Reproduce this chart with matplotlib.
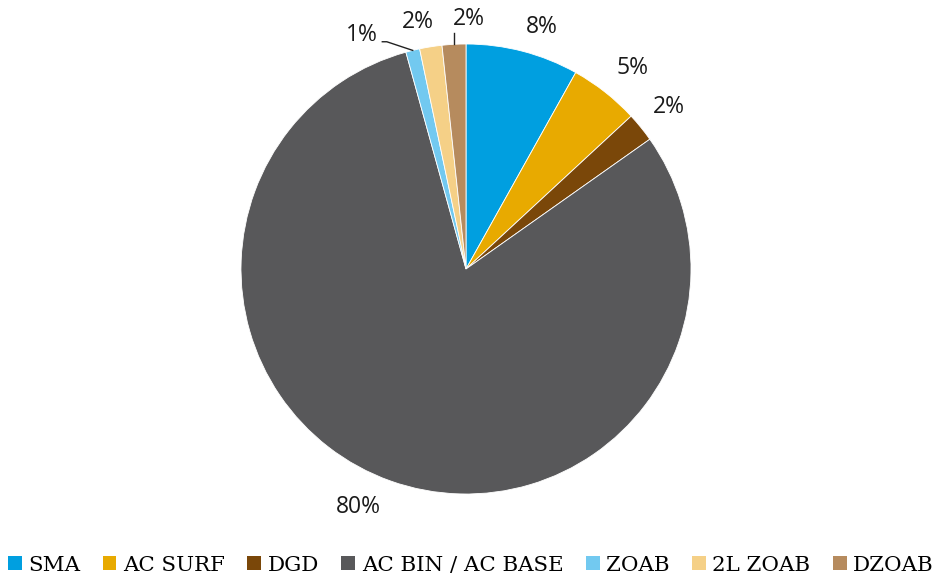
import matplotlib
matplotlib.use("Agg")
import matplotlib.pyplot as plt
import numpy as np

categories = ["SMA", "AC SURF", "DGD", "AC BIN / AC BASE", "ZOAB", "2L ZOAB", "DZOAB"]
values = [8.1, 5.0, 2.1, 80.4, 1.0, 1.6, 1.7]
colors = ["#009FE0", "#E8AA00", "#7A4709", "#58585A", "#72C9F0", "#F5D087", "#B68B5E"]

# label positions (in pie-radius units) and whether a leader line is drawn
label_pos = [(0.338, 1.076), (0.742, 0.893), (0.902, 0.72), (-0.48, -1.058),
             (-0.462, 1.04), (-0.213, 1.10), (0.013, 1.111)]
leader = [False, False, False, False, True, False, True]

W, H = 936, 577
cx, cy, R = 466, 308, 225
fig = plt.figure(figsize=(W / 100, H / 100), dpi=100)
ax = fig.add_axes([0, 0, 1, 1])
wedges, _ = ax.pie(values, colors=colors, startangle=90, counterclock=False,
                   radius=1, wedgeprops=dict(edgecolor="white", linewidth=0.6))
ax.set_xlim(-cx / R, (W - cx) / R)
ax.set_ylim(-cy / R, (H - cy) / R)
ax.set_aspect("auto")
ax.axis("off")

total = sum(values)
for w, v, (lx, ly), ld in zip(wedges, values, label_pos, leader):
    pct = v / total * 100
    ax.text(lx, ly, f"{int(round(pct))}%", ha="center", va="center",
            fontsize=16.5, family="Open Sans", color="#1a1a1a")
    if ld:
        mid = np.deg2rad((w.theta1 + w.theta2) / 2)
        ex, ey = np.cos(mid), np.sin(mid)
        if lx < -0.3:
            ax.plot([lx + 0.09, lx + 0.11, ex], [ly - 0.03, ly - 0.03, ey],
                    color="#222222", lw=1)
        else:
            ax.plot([ex, ex], [ly - 0.06, ey], color="#222222", lw=1)

from matplotlib.patches import Patch
handles = [Patch(facecolor=c, edgecolor="none") for c in colors]
leg = fig.legend(handles, categories, loc="lower center", ncol=7,
                 bbox_to_anchor=(0.503, -0.011), frameon=False,
                 prop=dict(family="DejaVu Serif", size=15.4),
                 handlelength=0.65, handleheight=0.65, handletextpad=0.3,
                 columnspacing=1.05, borderaxespad=0)
fig.savefig("out.png", dpi=100)
